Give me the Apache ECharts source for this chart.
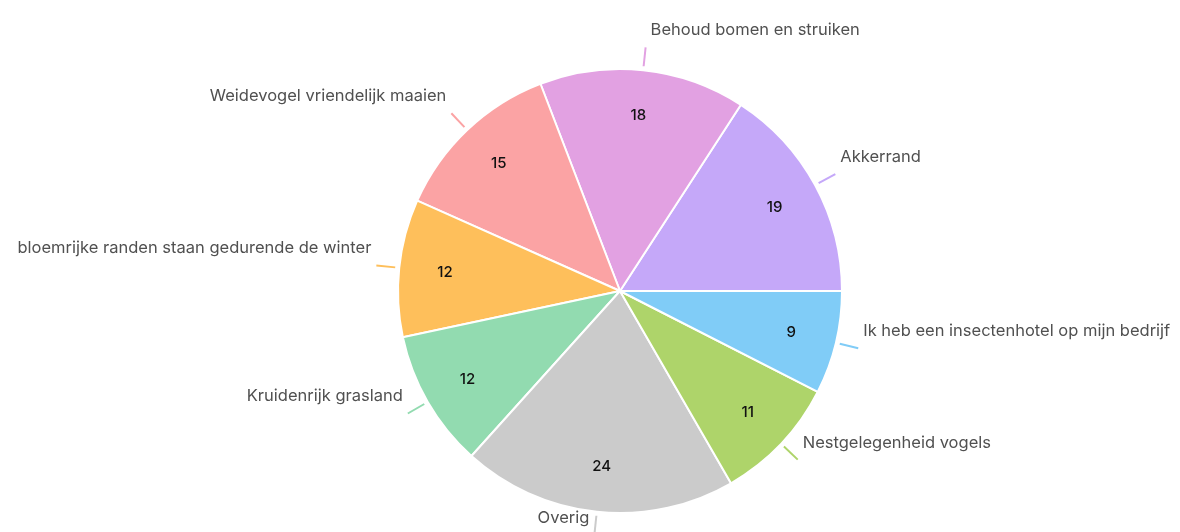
<!DOCTYPE html>
<html><head><meta charset="utf-8">
<script src="https://cdn.jsdelivr.net/npm/echarts@6/dist/echarts.min.js"></script>
<style>html,body{margin:0;padding:0;background:#fff}#c{width:1180px;height:532px}</style>
</head><body><div id="c"></div>
<script>
const categories = ['Akkerrand','Behoud bomen en struiken','Weidevogel vriendelijk maaien','bloemrijke randen staan gedurende de winter','Kruidenrijk grasland','Overig','Nestgelegenheid vogels','Ik heb een insectenhotel op mijn bedrijf'];
const values = [19,18,15,12,12,24,11,9];
const colors = ['#c5a8f9','#e2a1e2','#fba3a4','#febf5b','#92dbb0','#cbcbcb','#aed46a','#80ccf7'];

const data = categories.map((n,i)=>({name:n,value:values[i]}));
const dataLbl = categories.map((n,i)=>({name:n,value:values[i],
  labelLine:{lineStyle:{color:colors[i]}}}));
const FONT = 'Inter';
const chart = echarts.init(document.getElementById('c'), null, {renderer:'canvas'});
const center = [620, 291];
chart.setOption({
  animation:false,
  color: colors,
  series:[
    {type:'pie', center, radius:222, startAngle:0, clockwise:false, silent:true,
     data, label:{show:false}, labelLine:{show:false},
     itemStyle:{borderColor:'#fff', borderWidth:2}},
    {type:'pie', center, radius:[124,222], startAngle:0, clockwise:false, silent:true,
     data, itemStyle:{color:'rgba(0,0,0,0)'},
     label:{show:true, position:'inside', formatter:'{c}', color:'#111', fontSize:15, fontWeight:500, fontFamily:FONT},
     labelLine:{show:false}},
    {type:'pie', center, radius:226, startAngle:0, clockwise:false, silent:true,
     data:dataLbl, itemStyle:{color:'rgba(0,0,0,0)'},
     avoidLabelOverlap:false,
     label:{show:true, position:'outside', formatter:'{t|{b}}\n{s| }',
            distanceToLabelLine:5,
            rich:{t:{color:'#505050', fontSize:16.5, fontFamily:FONT, lineHeight:20},
                  s:{fontSize:10, lineHeight:34}}},
     labelLine:{show:true, length:19, length2:0, smooth:false, lineStyle:{width:2}}}
  ]
});
</script></body></html>
